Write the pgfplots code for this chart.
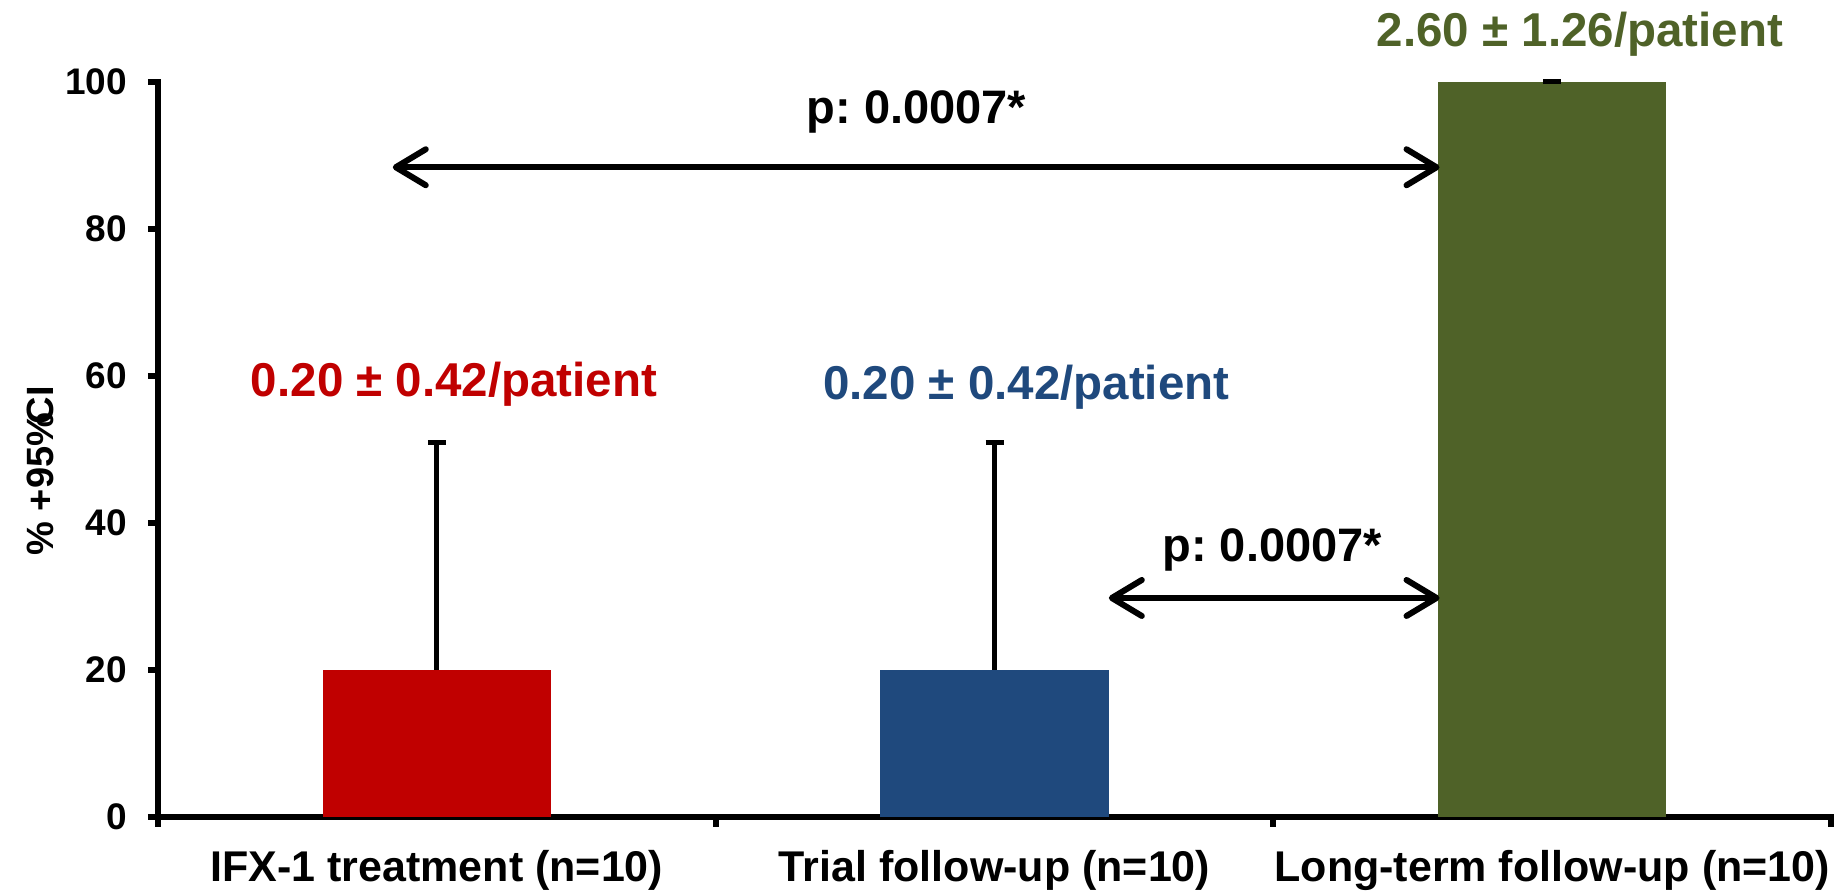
\documentclass[border=0pt]{standalone}
\usepackage{fontspec}
\setmainfont{Liberation Sans}
\usepackage{pgfplots}
\pgfplotsset{compat=1.18}
\usetikzlibrary{arrows.meta}
\definecolor{barred}{HTML}{C00000}
\definecolor{barblue}{HTML}{1F497D}
\definecolor{bargreen}{HTML}{4F6228}
\newcommand\bfsize[1]{\fontsize{#1}{#1}\selectfont\bfseries}
\frenchspacing
\begin{document}
\begin{tikzpicture}
\begin{axis}[
  scale only axis, width=836.5pt, height=367.5pt,
  xmin=-0.5, xmax=2.5, ymin=0, ymax=100,
  axis lines*=left,
  axis line style={line width=3pt, line cap=rect},
  tick align=outside,
  major tick length=5pt,
  tick style={line width=3pt, black},
  xtick={-0.5,0.5,1.5,2.5}, xticklabels={},
  extra x ticks={0,1,2},
  extra x tick labels={IFX-1 treatment (n=10), Trial follow-up (n=10), Long-term follow-up (n=10)},
  extra x tick style={major tick length=0pt},
  xticklabel style={font=\bfsize{21.5pt}, anchor=base, yshift=-32.5pt},
  ytick={0,20,40,60,80,100},
  yticklabel style={font=\bfsize{18.5pt}, xshift=-7pt},
  /pgf/number format/assume math mode=true,
  ylabel={\% +95\%\kern-0.3em CI},
  ylabel style={font=\bfsize{19pt}, at={(axis description cs:-0.07,0.471)}, anchor=center},
  clip=false,
  error bars/y dir=plus, error bars/y explicit,
  error bars/error mark=|,
  error bars/error bar style={line width=2.5pt, black},
  error bars/error mark options={line width=2.5pt, mark size=4.5pt, black},
]
% bars with upper 95% CI whiskers
\addplot[ybar, bar shift=0pt, bar width=0.41, fill=barred, draw=none]
  coordinates {(0,20) +- (0,31)};
\addplot[ybar, bar shift=0pt, bar width=0.41, fill=barblue, draw=none]
  coordinates {(1,20) +- (0,31)};
\addplot[ybar, bar shift=0pt, bar width=0.41, fill=bargreen, draw=none]
  coordinates {(2,100) +- (0,0.05)};

% per-group mean labels
\node[anchor=base, text=barred, font=\bfsize{23.75pt}] at (axis cs:0.031,57.2) {0.20 ± 0.42/patient};
\node[anchor=base, text=barblue, font=\bfsize{23.75pt}] at (axis cs:1.057,56.8) {0.20 ± 0.42/patient};
\node[anchor=base, text=bargreen, font=\bfsize{23.75pt}] at (axis cs:2.05,104.8) {2.60 ± 1.26/patient};

% significance brackets
\draw[line width=3pt, {Straight Barb[length=15pt,width=18pt,line cap=round,line join=round]}-{Straight Barb[length=15pt,width=18pt,line cap=round,line join=round]}]
  (axis cs:-0.079,88.4) -- (axis cs:1.798,88.4);
\node[anchor=base, font=\bfsize{23.5pt}] at (axis cs:0.86,94.4) {p: 0.0007*};
\draw[line width=3pt, {Straight Barb[length=15pt,width=18pt,line cap=round,line join=round]}-{Straight Barb[length=15pt,width=18pt,line cap=round,line join=round]}]
  (axis cs:1.205,29.8) -- (axis cs:1.798,29.8);
\node[anchor=base, font=\bfsize{23.5pt}] at (axis cs:1.498,34.7) {p: 0.0007*};
\end{axis}
\pgfresetboundingbox
\path (-79pt,-38pt) rectangle (840pt,408.5pt);
\end{tikzpicture}
\end{document}
